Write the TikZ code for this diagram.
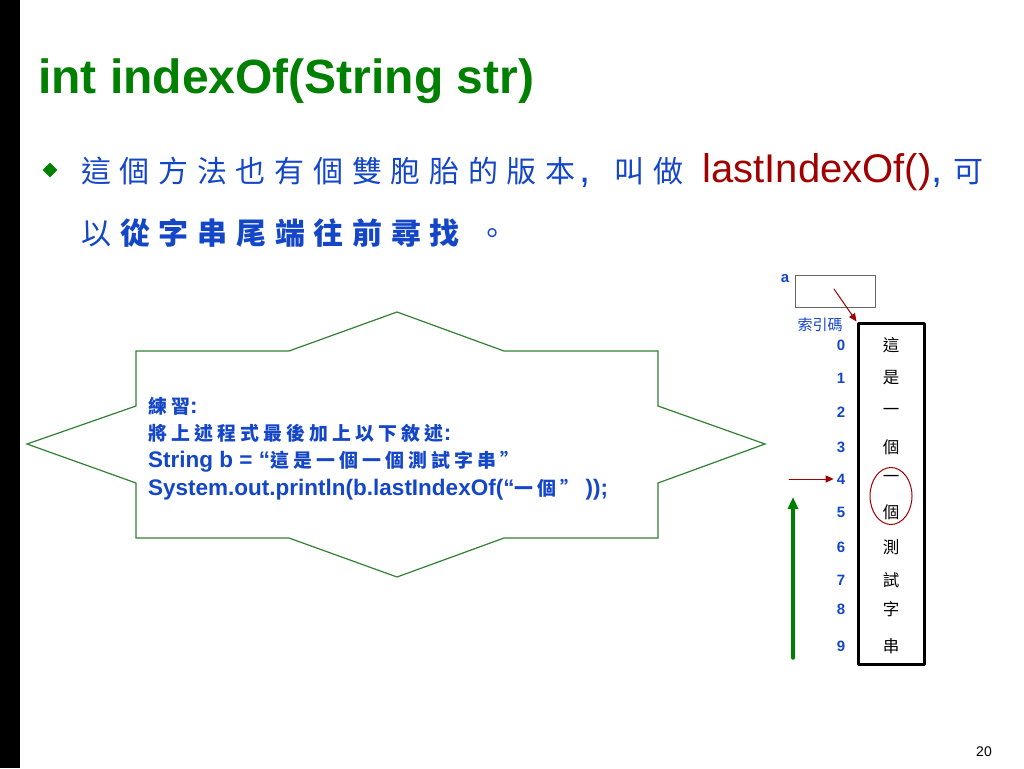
\documentclass[tikz,border=0pt]{standalone}
\usepackage{fontspec}
\setmainfont{Liberation Sans}
\newfontfamily\cjk[Scale=0.75,LetterSpace=29]{Noto Sans CJK TC}
\newfontfamily\cjkmemo[Scale=0.84,LetterSpace=22]{Noto Sans CJK TC}
\newfontfamily\cjkplain[Scale=0.75]{Noto Sans CJK TC}
\usetikzlibrary{shapes.geometric,arrows.meta}
\definecolor{titlegreen}{RGB}{0,128,0}
\definecolor{textblue}{RGB}{20,70,200}
\definecolor{darkred}{RGB}{160,0,0}
\definecolor{starline}{RGB}{50,128,50}
\newcommand{\zh}[1]{{\cjk #1}}
\newcommand{\zm}[1]{{\cjkmemo #1}}
\newcommand{\zhp}[1]{{\cjkplain #1}}
\tikzset{
  memo/.style={anchor=base west,inner sep=0,text=textblue,font=\bfseries\fontsize{22.5}{27}\selectfont},
  idx/.style={inner sep=0,text=textblue,font=\bfseries\fontsize{15}{15}\selectfont},
  cell/.style={inner sep=0,font=\fontsize{22}{22}\selectfont},
  redarrow/.style={->,>={Triangle[length=8,width=7]},draw=darkred,line width=1},
  greenarrow/.style={->,>={Triangle[length=12,width=10]},draw=titlegreen,line width=3.5}
}

\begin{document}
\begin{tikzpicture}[x=1pt,y=-1pt,line cap=round,line join=round]
\useasboundingbox (0,0) rectangle (1024,768);
\fill[white] (0,0) rectangle (1024,768);
\fill[black] (0,0) rectangle (20,768);
% title and bullet text
\node[anchor=base west,inner sep=0,text=titlegreen,font=\bfseries\fontsize{48}{48}\selectfont] (title) at (38,93) {int indexOf(String str)};
\node[diamond,fill=titlegreen,inner sep=0,minimum size=15] (bullet) at (50,170) {};
\node[anchor=base west,inner sep=0,text=textblue,font=\fontsize{40}{40}\selectfont] (line1) at (81,182)
  {\zh{這個方法也有個雙胞胎的版本}\hspace{4pt},\hspace{24pt}\zh{叫做}\hspace{8pt} {\color{darkred}lastIndexOf()}, \zh{可}};
\node[anchor=base west,inner sep=0,text=textblue,font=\fontsize{40}{40}\selectfont] (line2) at (81,244)
  {\zh{以}\hspace{9pt}{\bfseries\zh{從字串尾端往前尋找}}\hspace{18pt}\zh{。}};
% star
\draw[starline,line width=1.2,line join=miter] (136,351) -- (289,351) -- (397,312) -- (504,351) -- (658,351) -- (658,406)
  -- (765,444) -- (658,483) -- (658,538) -- (504,538) -- (397,577) -- (289,538) -- (136,538) -- (136,483)
  -- (27,444) -- (136,406) -- cycle;
\node[memo] (memo1) at (148,413) {\zm{練習}:};
\node[memo] (memo2) at (148,440) {\zm{將上述程式最後加上以下敘述}:};
\node[memo] (memo3) at (148,467) {String b = “\zm{這是一個一個測試字串”}};
\node[memo] (memo4) at (148,495) {System.out.println(b.lastIndexOf(“\zm{一個”} ));};
% string column
\node[draw,line width=0.8,draw=black!60,minimum width=80,minimum height=32,inner sep=0] (abox) at (835,291) {};
\node[idx] (alab) at (785,279) {a};
\node[inner sep=0,text=textblue,font=\fontsize{20}{20}\selectfont] (idxlab) at (820,325) {\zhp{索引碼}};
\node[draw,line width=3,minimum width=66,minimum height=341,inner sep=0] (col) at (891,493.5) {};
\foreach \i/\c/\y in {0/這/345,1/是/378,2/一/412,3/個/447,4/一/479,5/個/512,6/測/547,7/試/580,8/字/609,9/串/646}{
  \node[idx] (idx\i) at (841,\y) {\i};
  \node[cell] (ch\i) at (891,\y) {\zhp{\c}};
}
\node[ellipse,draw=darkred,line width=1,minimum width=42,minimum height=57,inner sep=0] (found) at (891,496) {};
\coordinate (aptr) at (834,289);
\coordinate (hit) at (789,479);
\coordinate (gbot) at (793,658);
\coordinate (gtop) at (793,497);
\draw[redarrow] (aptr) -- (col.north west);
\draw[redarrow] (hit) -- ([xshift=-3]idx4.west);
\draw[greenarrow] (gbot) -- (gtop);
\node[inner sep=0,font=\fontsize{14}{14}\selectfont] (page) at (984,752) {20};
\end{tikzpicture}
\end{document}
